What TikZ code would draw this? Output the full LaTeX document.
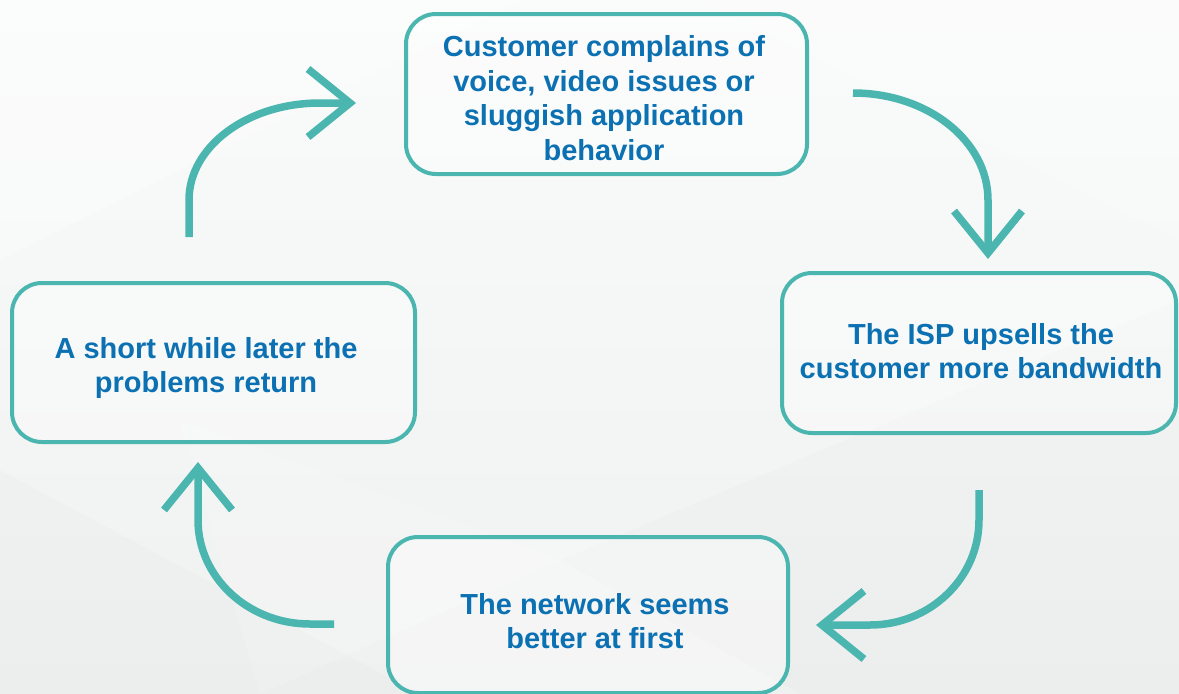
\documentclass[tikz,border=0pt]{standalone}
\usepackage{fontspec}
\setmainfont{Liberation Sans}
\usetikzlibrary{arrows.meta}
\definecolor{teal}{RGB}{75,182,176}
\definecolor{ink}{RGB}{11,113,178}
\definecolor{bgtop}{RGB}{250,251,251}
\definecolor{bgbot}{RGB}{239,240,240}
\begin{document}
\begin{tikzpicture}[x=1pt,y=-1pt,
  box/.style={draw=teal, line width=4pt, rounded corners=30pt, fill=white, fill opacity=0.35, draw opacity=1, inner sep=0pt},
  txt/.style={text=ink, align=center, inner sep=0pt, font=\bfseries\fontsize{29pt}{34.5pt}\selectfont},
  cyc/.style={draw=teal, line width=7.5pt, -{Straight Barb[length=42pt, width=68pt]}}]
% page and soft faceted backdrop
\useasboundingbox (0,0) rectangle (1179,694);
\shade[top color=bgtop, bottom color=bgbot] (0,0) rectangle (1179,694);
\fill[white, opacity=0.3] (0,0) -- (520,0) -- (0,260) -- cycle;
\fill[white, opacity=0.2] (700,0) -- (1179,0) -- (1179,240) -- cycle;
\fill[black, opacity=0.01] (0,470) -- (420,694) -- (0,694) -- cycle;
\fill[black, opacity=0.012] (560,560) -- (1179,300) -- (1179,694) -- (800,694) -- cycle;
\fill[white, opacity=0.15] (180,420) -- (560,560) -- (260,694) -- cycle;
% the four stages
\node[box, minimum width=401pt, minimum height=160pt] (b1) at (606.5,94) {};
\node[box, minimum width=394pt, minimum height=160pt] (b2) at (979,353) {};
\node[box, minimum width=400pt, minimum height=156pt] (b3) at (588,615) {};
\node[box, minimum width=403pt, minimum height=159pt] (b4) at (213.5,362.5) {};
\node[txt] (t1) at (604,98) {Customer complains of\\voice, video issues or\\sluggish application\\behavior};
\node[txt] (t2) at (981,351) {The ISP upsells the\\customer more bandwidth};
\node[txt] (t3) at (595,621) {The network seems\\better at first};
\node[txt] (t4) at (206,368) {A short while later the\\problems return};
% free ends of the cycle arrows
\coordinate (a1s) at (189,237); \coordinate (a1e) at (356,103);
\coordinate (a2s) at (853,93);  \coordinate (a2e) at (988,259);
\coordinate (a3s) at (979,490); \coordinate (a3e) at (816,625);
\coordinate (a4s) at (334,624); \coordinate (a4e) at (198,462);
% cycle arrows
\draw[cyc] (a1s) -- (189,200) .. controls (189,146.4) and (247.6,103) .. (320,103) -- (a1e);
\draw[cyc] (a2s) .. controls (927.6,93) and (988,140.9) .. (988,200) -- (a2e);
\draw[cyc] (a3s) -- (979,520) .. controls (979,578) and (930.2,625) .. (870,625) -- (a3e);
\draw[cyc] (a4s) -- (310,624) .. controls (248.1,624) and (198,577.4) .. (198,520) -- (a4e);
\end{tikzpicture}
\end{document}
